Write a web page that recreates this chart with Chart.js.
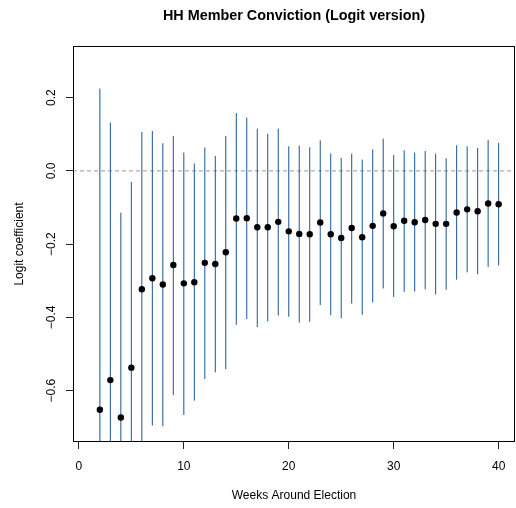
<!DOCTYPE html>
<html>
<head>
<meta charset="utf-8">
<script src="https://cdn.jsdelivr.net/npm/chart.js@4.4.1/dist/chart.umd.min.js"></script>
<style>
html,body{margin:0;padding:0;background:#fff;}
canvas{display:block;}
</style>
</head>
<body>
<canvas id="c" width="516" height="508"></canvas>
<script>
// ---- data ----
const weeks = [2,3,4,5,6,7,8,9,10,11,12,13,14,15,16,17,18,19,20,21,22,23,24,25,26,27,28,29,30,31,32,33,34,35,36,37,38,39,40];
const coef  = [-0.652,-0.571,-0.673,-0.537,-0.323,-0.293,-0.310,-0.257,-0.307,-0.304,-0.251,-0.254,-0.222,-0.130,-0.129,-0.154,-0.154,-0.139,-0.165,-0.172,-0.173,-0.141,-0.173,-0.183,-0.156,-0.181,-0.150,-0.116,-0.151,-0.136,-0.140,-0.134,-0.1445,-0.1445,-0.1135,-0.105,-0.110,-0.089,-0.091];
const upper = [0.225,0.132,-0.114,-0.030,0.106,0.109,0.0755,0.0955,0.050,0.020,0.064,0.041,0.0955,0.158,0.1455,0.1155,0.101,0.1155,0.067,0.069,0.0645,0.0835,0.0473,0.0355,0.047,0.031,0.059,0.088,0.043,0.0565,0.050,0.0545,0.047,0.0345,0.070,0.067,0.063,0.0845,0.0765];
const lower = [-1.529,-1.274,-1.232,-1.044,-0.752,-0.695,-0.697,-0.612,-0.666,-0.627,-0.568,-0.550,-0.541,-0.420,-0.404,-0.426,-0.411,-0.395,-0.398,-0.414,-0.412,-0.366,-0.394,-0.402,-0.362,-0.393,-0.359,-0.321,-0.344,-0.330,-0.329,-0.323,-0.337,-0.3245,-0.297,-0.277,-0.2825,-0.2625,-0.258];
const xTicks = [0,10,20,30,40];
const yTicks = [-0.6,-0.4,-0.2,0.0,0.2];
const xRange = [-0.56, 41.56];
const yRange = [-0.740, 0.341];
const refLine = 0;

const FONT = "'Liberation Sans', Arial, Helvetica, sans-serif";

const barData = [];
weeks.forEach((w,i)=>{
  barData.push({x:w,y:lower[i]});
  barData.push({x:w,y:upper[i]});
  barData.push({x:w,y:null});
});

const framePlugin = {
  id:'frame',
  afterDraw(chart){
    const {ctx, chartArea:a} = chart;
    ctx.save();
    ctx.strokeStyle = '#000';
    ctx.lineWidth = 1;
    ctx.strokeRect(a.left+0.5, a.top+0.5, a.right-a.left-1, a.bottom-a.top-1);
    ctx.restore();
  }
};

new Chart(document.getElementById('c'), {
  type:'line',
  data:{
    datasets:[
      {
        label:'coef',
        data: weeks.map((w,i)=>({x:w,y:coef[i]})),
        showLine:false,
        pointRadius:3.2,
        pointBackgroundColor:'#000',
        pointBorderColor:'#000',
        pointBorderWidth:0
      },
      {
        label:'ci',
        data: barData,
        borderColor:'#1a5596',
        borderWidth:1,
        pointRadius:0,
        spanGaps:false,
        tension:0
      },
      {
        label:'zero',
        data:[{x:xRange[0],y:refLine},{x:xRange[1],y:refLine}],
        borderColor:'#9a9a9a',
        borderWidth:1,
        borderDash:[4,3],
        pointRadius:0
      }
    ]
  },
  options:{
    responsive:false,
    animation:false,
    devicePixelRatio:1,
    layout:{autoPadding:false, padding:{left:0,right:1,top:0,bottom:0}},
    plugins:{
      legend:{display:false},
      tooltip:{enabled:false},
      title:{
        display:true,
        text:'HH Member Conviction (Logit version)',
        fullSize:false,
        color:'#000',
        font:{family:FONT,size:14.4,weight:'bold',lineHeight:1.2},
        padding:{top:7,bottom:21.7}
      }
    },
    scales:{
      x:{
        type:'linear',
        min:xRange[0], max:xRange[1],
        afterBuildTicks(s){ s.ticks = xTicks.map(v=>({value:v})); },
        afterFit(s){ s.height = 66; s.paddingLeft = 0; s.paddingRight = 0; },
        grid:{drawOnChartArea:false, drawTicks:true, tickLength:7, color:'#222'},
        border:{display:false},
        ticks:{color:'#000', font:{family:FONT,size:12}, padding:10, autoSkip:false, maxRotation:0,
          callback:(v)=>String(v)},
        title:{display:true, text:'Weeks Around Election', color:'#000',
          font:{family:FONT,size:12,lineHeight:1.2}, padding:{top:0,bottom:5}}
      },
      y:{
        type:'linear',
        min:yRange[0], max:yRange[1],
        afterBuildTicks(s){ s.ticks = yTicks.map(v=>({value:v})); },
        afterFit(s){ s.width = 73; s.paddingTop = 0; s.paddingBottom = 0; },
        grid:{drawOnChartArea:false, drawTicks:true, tickLength:7, color:'#222'},
        border:{display:false},
        ticks:{color:'#000', font:{family:FONT,size:12}, padding:2.8, autoSkip:false,
          minRotation:90, maxRotation:90, crossAlign:'center',
          callback:(v)=>{ const s=Math.abs(v).toFixed(1); return v< -1e-9 ? '\u2212'+s : s; }},
        title:{display:true, text:'Logit coefficient', color:'#000',
          font:{family:FONT,size:12,lineHeight:1.2}, padding:{top:12.8,bottom:0}}
      }
    }
  },
  plugins:[framePlugin]
});
</script>
</body>
</html>
